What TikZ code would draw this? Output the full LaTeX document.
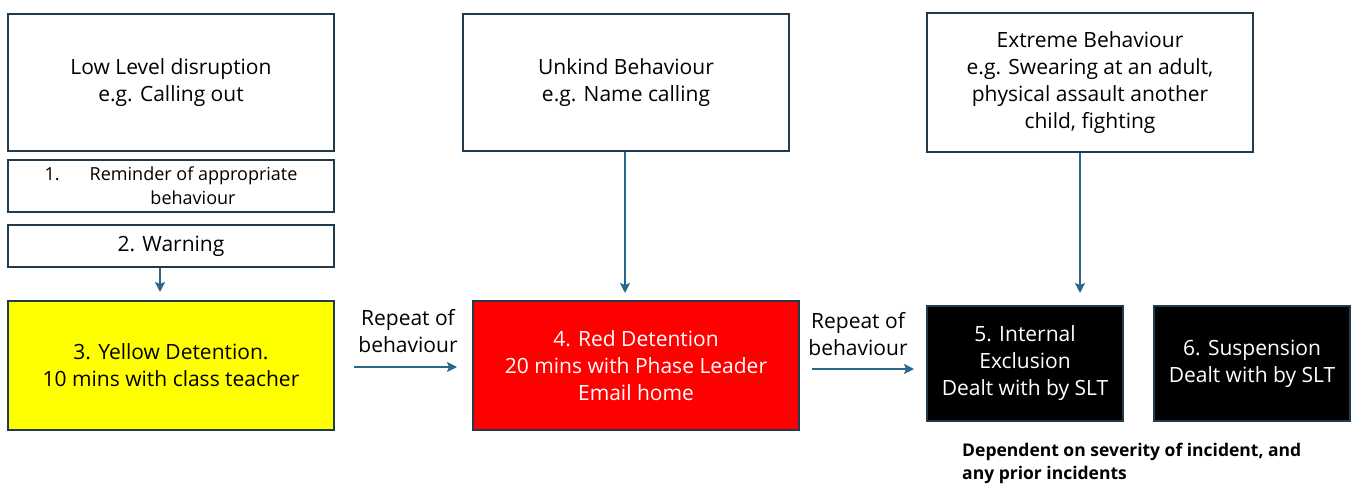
\documentclass[tikz,border=0pt]{standalone}
\usepackage{fontspec}
\setmainfont{Open Sans}
\usetikzlibrary{arrows.meta}
\definecolor{bordc}{HTML}{1F3B4D}
\definecolor{arrc}{HTML}{2B6788}
\tikzset{
  box/.style={draw=bordc, line width=2pt, rectangle, inner sep=0pt, align=center, font=\fontsize{21}{27}\selectfont},
  arr/.style={draw=arrc, line width=2pt, -{Stealth[length=10pt,width=10pt,inset=2pt]}},
  lbl/.style={align=center, font=\fontsize{21}{27}\selectfont, text=black}
}
\begin{document}
\begin{tikzpicture}[x=1pt,y=-1pt]
\useasboundingbox (0,0) rectangle (1354,485);
\node[box, minimum width=326pt, minimum height=137pt] (low) at (171,82.5) {Low Level disruption\\e.g. Calling out};
\node[box, minimum width=326pt, minimum height=52pt, font=\fontsize{18}{24}\selectfont] (rem) at (171,186) {1.\hspace{30pt}Reminder of appropriate\\\hspace*{44pt}behaviour};
\node[box, minimum width=326pt, minimum height=42pt] (warn) at (171,246) {2. Warning};
\node[box, fill={rgb,255:red,255;green,255;blue,0}, minimum width=326pt, minimum height=129pt] (yellow) at (171,365.5) {3. Yellow Detention.\\10 mins with class teacher};
\node[box, fill={rgb,255:red,255;green,0;blue,0}, text=white, minimum width=326pt, minimum height=129pt] (red) at (636,365.5) {4. Red Detention\\20 mins with Phase Leader\\Email home};
\node[box, minimum width=326pt, minimum height=137pt] (unkind) at (626,82.5) {Unkind Behaviour\\e.g. Name calling};
\node[box, minimum width=326pt, minimum height=139pt, text depth=4pt] (extreme) at (1090,82.5) {Extreme Behaviour\\e.g. Swearing at an adult,\\physical assault another\\child, fighting};
\node[box, fill=black, text=white, minimum width=196pt, minimum height=115pt] (intex) at (1025,363.5) {5. Internal\\Exclusion\\Dealt with by SLT};
\node[box, fill=black, text=white, minimum width=196pt, minimum height=115pt] (susp) at (1252,363.5) {6. Suspension\\Dealt with by SLT};
\node[lbl] (rep1) at (408,331) {Repeat of\\behaviour};
\node[lbl] (rep2) at (858,334) {Repeat of\\behaviour};
\node[align=left, anchor=west, inner sep=0pt, font=\fontsize{17.5}{23}\selectfont\bfseries] (dep) at (962,463) {Dependent on severity of incident, and\\any prior incidents};
\draw[arr, shorten >=8pt] ([xshift=-11pt]warn.south) -- ([xshift=-11pt]warn.south |- yellow.north);
\draw[arr, shorten >=7pt] ([xshift=-1pt]unkind.south) -- ([xshift=-1pt]unkind.south |- red.north);
\draw[arr, shorten >=12pt] ([xshift=-10pt]extreme.south) -- ([xshift=-10pt]extreme.south |- intex.north);
\draw[arr, shorten <=19pt, shorten >=15pt] ([yshift=-1.5pt]yellow.east) -- ([yshift=-1.5pt]yellow.east -| red.west);
\draw[arr, shorten <=12pt, shorten >=12pt] ([yshift=-3.5pt]red.east) -- ([yshift=-3.5pt]red.east -| intex.west);
\end{tikzpicture}
\end{document}
